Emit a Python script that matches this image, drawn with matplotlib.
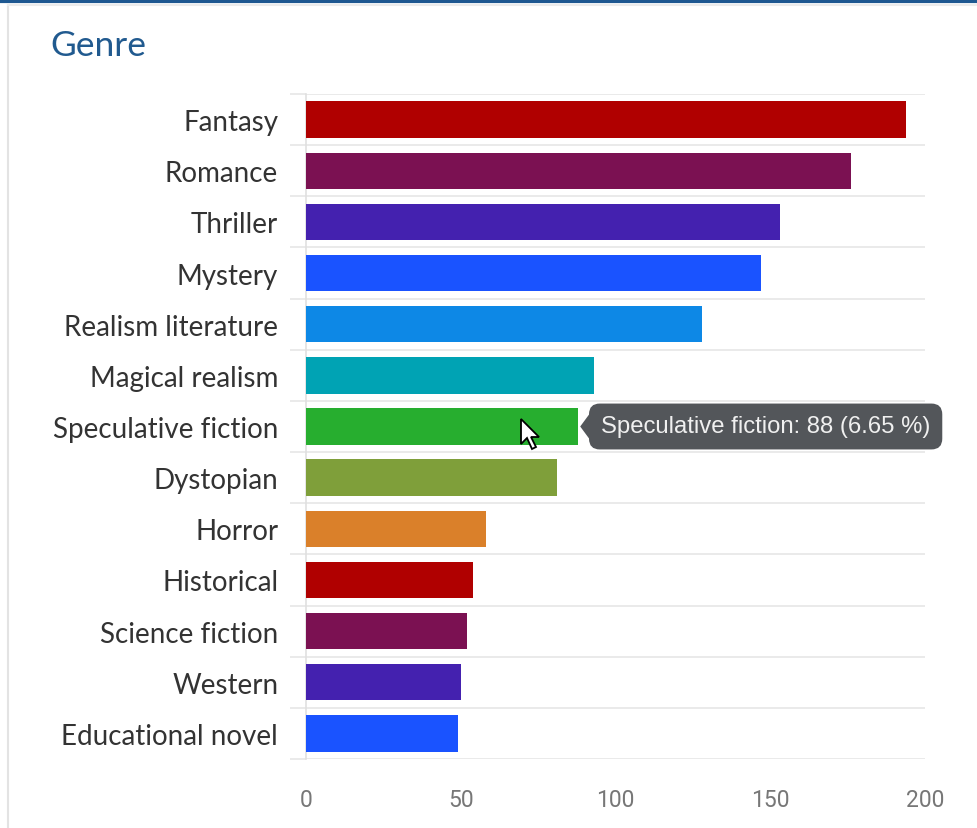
import matplotlib.pyplot as plt
from matplotlib.patches import Polygon
from matplotlib.lines import Line2D
import numpy as np

genres = ['Fantasy', 'Romance', 'Thriller', 'Mystery', 'Realism literature',
          'Magical realism', 'Speculative fiction', 'Dystopian', 'Horror',
          'Historical', 'Science fiction', 'Western', 'Educational novel']
counts = [194, 176, 153, 147, 128, 93, 88, 81, 58, 54, 52, 50, 49]
colors = ['#b00000', '#7b1152', '#4421af', '#1a53ff', '#0d88e6', '#00a3b4',
          '#27ae2f', '#7f9f3a', '#da802a', '#b00000', '#7b1152', '#4421af',
          '#1a53ff']
xticks = [0, 50, 100, 150, 200]
hover = 6  # Speculative fiction

W, H = 978, 829
fig = plt.figure(figsize=(W / 100, H / 100), dpi=100)
ax = fig.add_axes([306 / W, 1 - 760 / H, (925 - 306) / W, (760 - 95) / H])

y = np.arange(len(genres))
ax.barh(y, counts, height=0.71, color=colors, zorder=3)
ax.set_ylim(len(genres) - 0.5, -0.5)
ax.set_xlim(0, 200)

# category labels
ax.set_yticks(y)
ax.set_yticklabels(genres, fontsize=20, color='#333333', family='Lato')
ax.tick_params(axis='y', which='major', length=0, pad=20)
# boundary lines between categories
bounds = np.arange(len(genres) + 1) - 0.5
ax.set_yticks(bounds, minor=True)
ax.tick_params(axis='y', which='minor', length=11.5, width=1.2, color='#e6e6e6')
ax.grid(axis='y', which='minor', color='#e6e6e6', lw=1.2, zorder=1)

ax.set_xticks(xticks)
ax.set_xticklabels([str(t) for t in xticks], fontsize=16.5, color='#777777',
                   family=['Liberation Sans Narrow', 'Roboto'])
ax.tick_params(axis='x', length=0, pad=21)

for s in ['top', 'right', 'bottom']:
    ax.spines[s].set_visible(False)
ax.spines['left'].set_color('#e0e0e0')
ax.spines['left'].set_linewidth(1.2)

# title
fig.text(50 / W, 1 - 46 / H, 'Genre', fontsize=25.5, color='#215a8f',
         family='Lato', va='center', ha='left')

# panel frame
fig.add_artist(Line2D([0, 1], [1 - 1.5 / H, 1 - 1.5 / H], color='#1e5891', lw=3))
fig.add_artist(Line2D([8 / W, 8 / W], [0, 1 - 6 / H], color='#e3e3e3', lw=1.5))
fig.add_artist(Line2D([8 / W, 1], [1 - 6 / H, 1 - 6 / H], color='#ececec', lw=1.5))

# tooltip
hx = counts[hover]
ax.text(hx + 7.3, hover, f'{genres[hover]}: {hx} ({hx / sum(counts) * 100:.2f} %)',
        fontsize=17.2, color='#f0f0f0', family=['Liberation Sans', 'Roboto'],
        va='center', ha='left', zorder=6, clip_on=False,
        bbox=dict(boxstyle='round,pad=0.5,rounding_size=0.45',
                  fc='#53565a', ec='none'))
ax.add_patch(Polygon([[hx + 0.6, hover], [hx + 4.5, hover - 0.32],
                      [hx + 4.5, hover + 0.32]], closed=True,
                     fc='#53565a', ec='none', zorder=6, clip_on=False))

# mouse cursor
cx, cy = 521, 420
cur = np.array([[0, 0], [0, 25], [6, 19], [11, 30], [15, 28], [10, 18], [18, 18]])
pts = [((cx + px) / W, 1 - (cy + py) / H) for px, py in cur]
fig.add_artist(Polygon(pts, closed=True, fc='white', ec='black', lw=1.3, zorder=10))

fig.savefig('out.png', dpi=100, facecolor='white')
